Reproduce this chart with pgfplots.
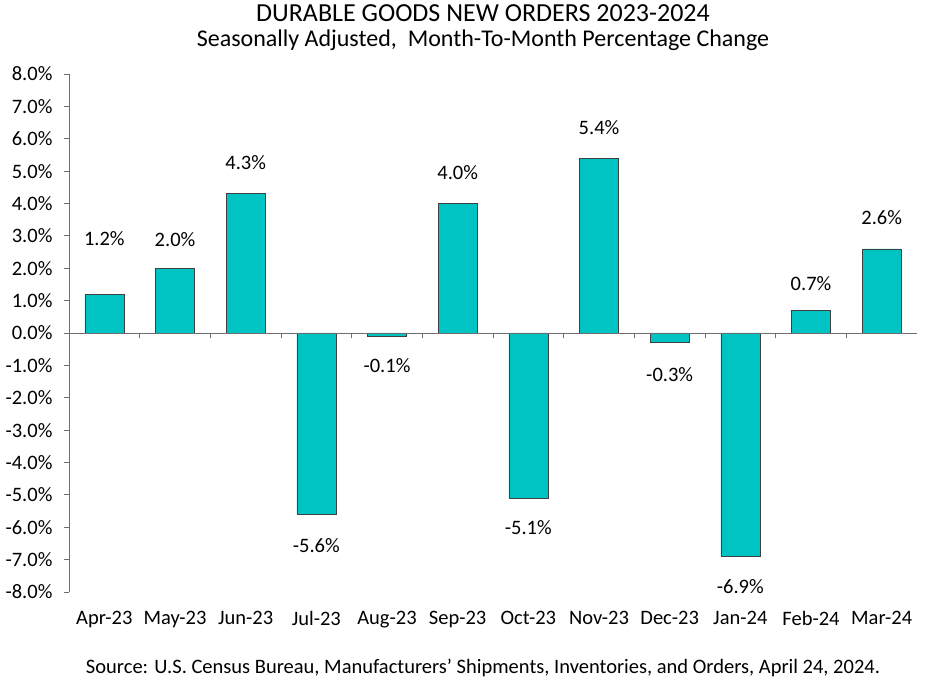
\documentclass[border=0pt]{standalone}
\usepackage{pgfplots}
\pgfplotsset{compat=1.18}
\usepackage{pgfplotstable}
\usepackage{fontspec}
\setmainfont{Carlito}

\definecolor{barteal}{RGB}{0,196,196}
\definecolor{axisgray}{RGB}{110,110,110}

% x, change (%), y where the value label sits
\pgfplotstableread{
x  v     ly
0  1.2   2.93
1  2.0   2.87
2  4.3   5.25
3  -5.6  -6.57
4  -0.1  -1.02
5  4.0   4.94
6  -5.1  -6.02
7  5.4   6.36
8  -0.3  -1.30
9  -6.9  -7.84
10 0.7   1.54
11 2.6   3.55
}\durables

\begin{document}
\begin{tikzpicture}[font=\fontsize{20.5}{24}\selectfont]
\useasboundingbox (0,0) rectangle (930pt,680pt);
\begin{axis}[
    at={(69pt,88pt)}, anchor=south west,
    scale only axis,
    width=848pt, height=518pt,
    xmin=-0.5, xmax=11.5,
    ymin=-8, ymax=8,
    ytick={-8,-7,...,8},
    xtick={0,...,11},
    xticklabels={Apr-23,May-23,Jun-23,Jul-23,Aug-23,Sep-23,Oct-23,Nov-23,Dec-23,Jan-24,Feb-24,Mar-24},
    axis y line=left,
    axis x line=bottom,
    x axis line style={draw=none},
    y axis line style={draw=axisgray, line width=0.8pt, -},
    xtick style={draw=none},
    ytick style={draw=axisgray, line width=0.8pt},
    tick align=outside,
    major tick length=5pt,
    /pgf/number format/assume math mode=true,
    yticklabel={\pgfmathprintnumber[fixed,fixed zerofill,precision=1]{\tick}\%},
    ticklabel style={font=\fontsize{20.5}{24}\selectfont},
    xticklabel style={yshift=-11pt},
    yticklabel style={xshift=-8pt},
    clip=false,
]
\addplot[ybar, bar width=39pt, fill=barteal, draw=black!75, line width=0.6pt]
    table[x=x, y=v] {\durables};
\addplot[draw=none, mark=none, nodes near coords, point meta=explicit,
    nodes near coords={\pgfmathprintnumber[fixed,fixed zerofill,precision=1]{\pgfplotspointmeta}\%},
    every node near coord/.style={anchor=center, font=\fontsize{20.5}{24}\selectfont}]
    table[x=x, y=ly, meta=v] {\durables};
\draw[axisgray, line width=0.8pt] (axis cs:-0.5,0) -- (axis cs:11.5,0);
\pgfplotsinvokeforeach{0.5,1.5,2.5,3.5,4.5,5.5,6.5,7.5,8.5,9.5,10.5}{
    \draw[axisgray, line width=0.8pt] (axis cs:#1,0) -- ([yshift=-5pt]axis cs:#1,0);
}
\end{axis}
\node at (483pt,667pt) {\fontsize{26}{30}\selectfont DURABLE GOODS NEW ORDERS 2023-2024};
\node at (483pt,640pt) {\fontsize{24}{28}\selectfont Seasonally Adjusted,\ \ Month-To-Month Percentage Change};
\node at (483pt,12pt) {Source: U.S. Census Bureau, Manufacturers’ Shipments, Inventories, and Orders, April 24, 2024.};
\end{tikzpicture}
\end{document}
